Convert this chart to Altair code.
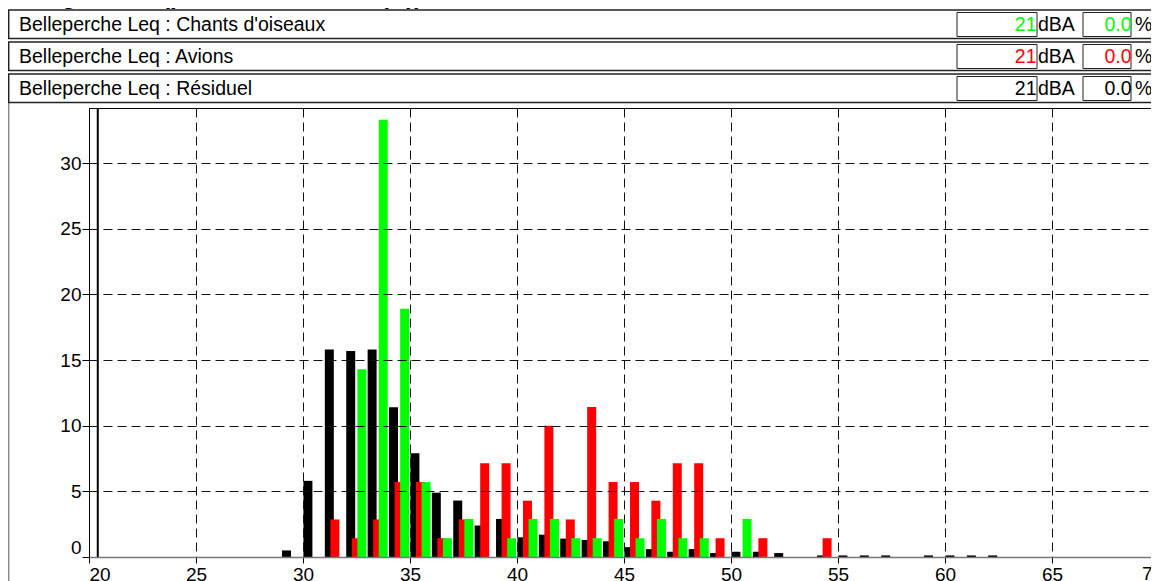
import altair as alt
import pandas as pd

# ---------------- data ----------------
classes = list(range(29, 63))  # classes de 1 dB(A)
residuel = [0.5, 5.8, 15.8, 15.7, 15.8, 11.4, 7.9, 4.9, 4.3, 2.4, 2.9, 1.5, 1.7, 1.4,
            1.3, 1.2, 0.75, 0.6, 0.4, 0.6, 0.3, 0.4, 0.4, 0.3, 0.0, 0.12, 0.12, 0.12,
            0.12, 0.0, 0.12, 0.12, 0.12, 0.12]
avions = [0.0, 0.0, 2.86, 1.43, 2.86, 5.71, 5.71, 1.43, 2.86, 7.14, 7.14, 4.29, 10.0, 2.86,
          11.43, 5.71, 5.71, 4.29, 7.14, 7.14, 1.43, 0.0, 1.43, 0.0, 0.0, 1.43, 0.0, 0.0,
          0.0, 0.0, 0.0, 0.0, 0.0, 0.0]
oiseaux = [0.0, 0.0, 0.0, 14.3, 33.3, 18.9, 5.7, 1.43, 2.9, 0.0, 1.43, 2.9, 2.9, 1.43,
           1.43, 2.9, 1.43, 2.9, 1.43, 1.43, 0.0, 2.9, 0.0, 0.0, 0.0, 0.0, 0.0, 0.0,
           0.0, 0.0, 0.0, 0.0, 0.0, 0.0]

title_text = "Histogramme (par classe de 1 dB(A))"
row_labels = ["Belleperche  Leq : Chants d'oiseaux", "Belleperche  Leq : Avions",
              "Belleperche  Leq : Résiduel"]
row_leq = ["21", "21", "21"]
row_pct = ["0.0", "0.0", "0.0"]
row_colors = ["#00ff00", "#ff0000", "#000000"]
x_ticks = list(range(20, 70, 5))
last_x_label = "70"
y_ticks = list(range(0, 35, 5))
cursor_x = [20.41]

# ---------------- layout / style ----------------
PX_PER_DB = 21.4
W, H = 1062, 449
PAD_L, PAD_T, PAD_B = 81, 100, 24
X_MAX = 20 + W / PX_PER_DB
FONT = "Liberation Sans"
BAR_W = 0.42

xs = alt.Scale(domain=[20, X_MAX], nice=False, zero=False)
ys = alt.Scale(domain=[0, 34.2], nice=False)

xaxis = alt.Axis(values=x_ticks, title=None, grid=True, gridDash=[9, 5], gridColor="#111",
                 gridWidth=1, tickColor="#000", tickSize=6, labelFontSize=19, labelFont=FONT,
                 labelColor="#000", labelFlush=True, labelPadding=2, domainColor="#777",
                 domainWidth=1.5, zindex=1, labelOverlap=False)
yaxis = alt.Axis(values=y_ticks, title=None, grid=True, gridDash=[9, 5], gridColor="#111",
                 gridWidth=1, tickColor="#000", tickSize=7, labelFontSize=19, labelFont=FONT,
                 labelColor="#000", labelFlush=True, labelPadding=1, domainColor="#000",
                 domainWidth=1, zindex=1)


def bar_layer(values, offset, color):
    df = pd.DataFrame({"classe": classes, "pct": values})
    df = df[df["pct"] > 0].copy()
    df["x0"] = df["classe"] + offset
    df["x1"] = df["x0"] + BAR_W
    return alt.Chart(df).mark_rect(color=color).encode(
        x=alt.X("x0:Q", scale=xs, axis=xaxis),
        x2="x1:Q",
        y=alt.Y("pct:Q", scale=ys, axis=yaxis),
        y2=alt.datum(0),
    )


layers = [
    bar_layer(residuel, 0.02, "#000000"),
    bar_layer(avions, 0.28, "#ff0000"),
    bar_layer(oiseaux, 0.54, "#00ff00"),
]

cursor = alt.Chart(pd.DataFrame({"x": cursor_x})).mark_rule(color="#000", strokeWidth=2).encode(
    x=alt.X("x:Q", scale=xs, axis=xaxis), y=alt.value(0), y2=alt.value(H))
layers.append(cursor)

one = alt.Data(values=[{"k": 1}])

# top edge of the plot frame
layers.append(alt.Chart(one).mark_rule(color="#000", strokeWidth=1).encode(
    x=alt.value(0), x2=alt.value(W), y=alt.value(0.5)))

# last x label, partly outside the window as in the reference
layers.append(alt.Chart(one).mark_text(text=last_x_label, font=FONT, fontSize=19,
                                       align="left", baseline="top", color="#000").encode(
    x=alt.value(1053), y=alt.value(H + 8)))

# outer left panel line
layers.append(alt.Chart(one).mark_rule(color="#888", strokeWidth=1.5).encode(
    x=alt.value(-80.3), y=alt.value(-6), y2=alt.value(H + PAD_B)))

# title (mostly above the visible page, as in the reference)
layers.append(alt.Chart(one).mark_text(text=title_text, font=FONT, fontSize=24, fontWeight="bold",
                                       align="left", baseline="alphabetic", color="#000").encode(
    x=alt.value(-87), y=alt.value(-104)))

for i in range(3):
    top = -98 + 32 * i
    layers.append(alt.Chart(one).mark_rect(fill="#fff", stroke="#222", strokeWidth=1.5).encode(
        x=alt.value(-80.3), x2=alt.value(1080), y=alt.value(top), y2=alt.value(top + 28.5)))
    mid = top + 15
    layers.append(alt.Chart(one).mark_text(text=row_labels[i], font=FONT, fontSize=19.5,
                                           align="left", baseline="middle", color="#000").encode(
        x=alt.value(-70), y=alt.value(mid)))
    layers.append(alt.Chart(one).mark_rect(fill="#fff", stroke="#222", strokeWidth=1).encode(
        x=alt.value(868), x2=alt.value(948), y=alt.value(top + 2.5), y2=alt.value(top + 26.5)))
    layers.append(alt.Chart(one).mark_text(text=row_leq[i], font=FONT, fontSize=19.5,
                                           align="right", baseline="middle", color=row_colors[i]).encode(
        x=alt.value(947.5), y=alt.value(mid)))
    layers.append(alt.Chart(one).mark_text(text="dBA", font=FONT, fontSize=19.5,
                                           align="left", baseline="middle", color="#000").encode(
        x=alt.value(949), y=alt.value(mid)))
    layers.append(alt.Chart(one).mark_rect(fill="#fff", stroke="#222", strokeWidth=1).encode(
        x=alt.value(994), x2=alt.value(1042), y=alt.value(top + 2.5), y2=alt.value(top + 26.5)))
    layers.append(alt.Chart(one).mark_text(text=row_pct[i], font=FONT, fontSize=19.5,
                                           align="right", baseline="middle", color=row_colors[i]).encode(
        x=alt.value(1042.5), y=alt.value(mid)))
    layers.append(alt.Chart(one).mark_text(text="%", font=FONT, fontSize=19.5,
                                           align="left", baseline="middle", color="#000").encode(
        x=alt.value(1046), y=alt.value(mid)))

chart = alt.layer(*layers).properties(
    width=W, height=H,
    autosize=alt.AutoSizeParams(type="none"),
    padding={"left": PAD_L, "top": PAD_T, "right": 0, "bottom": PAD_B},
    background="#ffffff",
).configure_view(stroke="transparent")

chart.save("out.html", embed_options={"renderer": "svg", "actions": False})
